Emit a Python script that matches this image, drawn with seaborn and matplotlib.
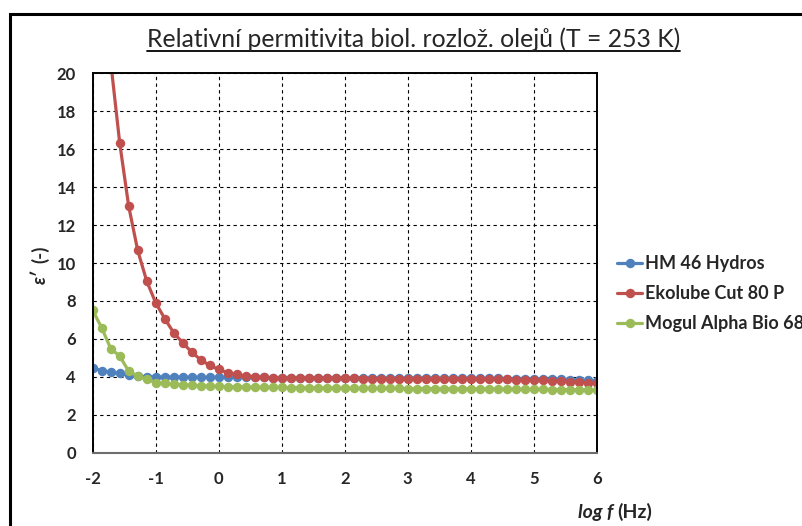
import numpy as np
import pandas as pd
import matplotlib
matplotlib.use("Agg")
import matplotlib.pyplot as plt
import seaborn as sns
from matplotlib.patches import Rectangle
from matplotlib.lines import Line2D

# log f (Hz) grid, 7 points per decade
log_f = [-2.0, -1.857, -1.714, -1.571, -1.429, -1.286, -1.143,
         -1.0, -0.857, -0.714, -0.571, -0.429, -0.286, -0.143,
         0.0, 0.143, 0.286, 0.429, 0.571, 0.714, 0.857,
         1.0, 1.143, 1.286, 1.429, 1.571, 1.714, 1.857,
         2.0, 2.143, 2.286, 2.429, 2.571, 2.714, 2.857,
         3.0, 3.143, 3.286, 3.429, 3.571, 3.714, 3.857,
         4.0, 4.143, 4.286, 4.429, 4.571, 4.714, 4.857,
         5.0, 5.143, 5.286, 5.429, 5.571, 5.714, 5.857, 6.0]

hm46 = [4.47, 4.32, 4.25, 4.18, 4.07, 4.03, 4.01, 4.00, 3.99, 3.99, 3.98, 3.98, 3.98, 3.97,
        3.98, 3.98, 3.97, 3.97, 3.97, 3.97, 3.96, 3.96, 3.96, 3.96, 3.96, 3.95, 3.95, 3.95,
        3.95, 3.95, 3.95, 3.95, 3.94, 3.94, 3.94, 3.94, 3.94, 3.94, 3.93, 3.93, 3.93, 3.93,
        3.93, 3.92, 3.92, 3.92, 3.91, 3.91, 3.90, 3.90, 3.89, 3.88, 3.87, 3.85, 3.83, 3.81, 3.78]

ekolube = [33.0, 26.0, 20.6, 16.32, 13.0, 10.67, 9.05, 7.9, 7.07, 6.32, 5.79, 5.3, 4.9, 4.6,
           4.39, 4.21, 4.13, 4.05, 4.0, 3.97, 3.95, 3.94, 3.93, 3.93, 3.92, 3.92, 3.92, 3.92,
           3.92, 3.92, 3.91, 3.91, 3.91, 3.91, 3.91, 3.91, 3.91, 3.90, 3.90, 3.90, 3.90, 3.90,
           3.90, 3.89, 3.88, 3.87, 3.86, 3.85, 3.84, 3.83, 3.81, 3.79, 3.77, 3.75, 3.72, 3.69, 3.66]

mogul = [7.51, 6.58, 5.49, 5.09, 4.30, 4.04, 3.86, 3.70, 3.65, 3.61, 3.58, 3.55, 3.53, 3.51,
         3.49, 3.48, 3.47, 3.46, 3.45, 3.45, 3.44, 3.44, 3.43, 3.43, 3.42, 3.42, 3.41, 3.41,
         3.40, 3.40, 3.40, 3.39, 3.39, 3.39, 3.39, 3.38, 3.38, 3.38, 3.38, 3.37, 3.37, 3.37,
         3.37, 3.36, 3.36, 3.36, 3.35, 3.35, 3.35, 3.34, 3.34, 3.33, 3.33, 3.32, 3.32, 3.31, 3.30]

oils = ["HM 46 Hydros", "Ekolube Cut 80 P", "Mogul Alpha Bio 68"]
colors = ["#4F81BD", "#C0504D", "#9BBB59"]

x_ticks = [-2, -1, 0, 1, 2, 3, 4, 5, 6]
y_ticks = [0, 2, 4, 6, 8, 10, 12, 14, 16, 18, 20]

title = "Relativní permitivita biol. rozlož. olejů (T = 253 K)"

df = pd.DataFrame({
    "log_f": log_f * 3,
    "eps": hm46 + ekolube + mogul,
    "oil": [o for o in oils for _ in log_f],
})

sns.set_style("white")
plt.rcParams["font.family"] = ["Lato", "DejaVu Sans"]
plt.rcParams["axes.unicode_minus"] = False

W, H = 802, 526
def fx(px):
    return px / W
def fy(py):
    return 1 - py / H

fig = plt.figure(figsize=(W / 100, H / 100), dpi=100)
ax = fig.add_axes([fx(92.7), fy(452.7), (596.7 - 92.7) / W, (452.7 - 73.3) / H])

sns.lineplot(data=df, x="log_f", y="eps", hue="oil", hue_order=oils, palette=colors,
             marker="o", markersize=6.8, markeredgewidth=0, linewidth=2.3,
             estimator=None, sort=False, ax=ax)

ax.set_xlim(-2, 6)
ax.set_ylim(0, 20)
ax.set_xticks(x_ticks)
ax.set_yticks(y_ticks)
ax.set_xticklabels([str(t) for t in x_ticks], fontweight="bold", fontsize=12)
ax.set_yticklabels([str(t) for t in y_ticks], fontweight="bold", fontsize=12)
ax.tick_params(axis="x", length=0, pad=13)
ax.tick_params(axis="y", length=0, pad=12)
ax.set_xlabel("")
ax.set_ylabel("")
ax.set_axisbelow(True)
ax.grid(True, color="black", linestyle=(0, (3, 3)), linewidth=0.8)
for side in ["left", "top", "right"]:
    ax.spines[side].set_color("black")
    ax.spines[side].set_linewidth(1.4)
ax.spines["bottom"].set_color("#6e6e6e")
ax.spines["bottom"].set_linewidth(1.5)

# legend to the right; the last entry runs past the picture edge as in the original
old = ax.get_legend()
handles = old.legend_handles
labels = [t.get_text() for t in old.get_texts()]
old.remove()
ax.legend(handles, labels, loc="center left", bbox_to_anchor=(fx(617), fy(293.5)),
          bbox_transform=fig.transFigure, frameon=False, handlelength=1.4,
          handletextpad=0.15, labelspacing=0.72, borderpad=0, borderaxespad=0,
          prop={"weight": "bold", "size": 13})

# axis labels
fig.text(fx(613.5), fy(518), "log f", ha="right", va="baseline",
         fontweight="bold", style="italic", fontsize=14)
fig.text(fx(617), fy(518), "(Hz)", ha="left", va="baseline",
         fontweight="bold", fontsize=14)
fig.text(fx(40), fy(284), "ε′", rotation=90, ha="center", va="bottom",
         fontweight="bold", style="italic", fontsize=13.5)
fig.text(fx(40), fy(263), "(-)", rotation=90, ha="center", va="bottom",
         fontweight="bold", fontsize=13.5)

# title with underline
t = fig.text(fx(413.5), fy(47.3), title, ha="center", va="baseline", fontsize=17.8)
fig.canvas.draw()
bb = t.get_window_extent()
fig.add_artist(Line2D([fx(bb.x0), fx(bb.x1)], [fy(51), fy(51)],
                      transform=fig.transFigure, color="black", linewidth=1.3))

# outer chart frame, cut at right and bottom
fig.add_artist(Rectangle((fx(10), -0.1), 1.2, fy(14) + 0.1, transform=fig.transFigure,
                         fill=False, edgecolor="black", linewidth=2.2))

fig.savefig("out.png", dpi=100)
